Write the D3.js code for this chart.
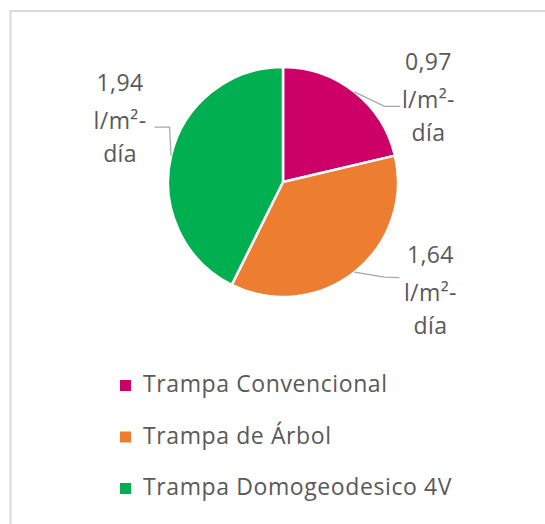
<!DOCTYPE html>
<html><head><meta charset="utf-8">
<script src="https://cdn.jsdelivr.net/npm/d3@7"></script>
<style>body{margin:0;background:#fff}svg{display:block}</style>
</head><body><svg id="c" width="545" height="524"></svg>
<script>
const categories = ["Trampa Convencional", "Trampa de Árbol", "Trampa Domogeodesico 4V"];
const values = [0.97, 1.64, 1.94];
const unitLines = ["l/m²-", "día"];
const colors = ["#CC0066", "#ED7D31", "#00B050"];

const W = 545, H = 524;
const cx = 283, cy = 182, R = 115;
const font = "'Open Sans', 'Noto Sans', sans-serif";
const txtColor = "#595959";

// layout (styling) for labels, relative to the leader start on the pie edge
const labelLayout = [
  {elbow: [30, 14.5], end: [46, 14.5], text: [74, -22]},
  {elbow: [30, 5], end: [45, 5.5], text: [76, -9]},
  {elbow: [-1.5, -28.5], end: [-16.5, -28.5], text: [-51, -65]}
];
const lineOffsets = [0, 38, 71];

const fmt = d3.formatLocale({decimal: ",", thousands: ".", grouping: [3], currency: ["", ""]}).format(".2f");

const svg = d3.select("#c");
svg.append("rect").attr("x", 10.5).attr("y", 11).attr("width", W + 20).attr("height", H + 20)
  .attr("fill", "#fff").attr("stroke", "#d9d9d9").attr("stroke-width", 2);

const pie = d3.pie().value(d => d).sort(null);
const arcs = pie(values);
const arc = d3.arc().innerRadius(0).outerRadius(R);

const g = svg.append("g").attr("transform", `translate(${cx},${cy})`);
g.selectAll("path.slice").data(arcs).enter().append("path")
  .attr("class", "slice")
  .attr("d", arc)
  .attr("fill", (d, i) => colors[i])
  .attr("stroke", "#fff").attr("stroke-width", 2.5).attr("stroke-linejoin", "round");

const edge = d3.arc().innerRadius(R).outerRadius(R);
arcs.forEach((d, i) => {
  const [sx, sy] = edge.centroid(d);
  const L = labelLayout[i];
  g.append("polyline")
    .attr("points", [[sx, sy], [sx + L.elbow[0], sy + L.elbow[1]], [sx + L.end[0], sy + L.end[1]]].map(p => p.join(",")).join(" "))
    .attr("fill", "none").attr("stroke", "#a6a6a6").attr("stroke-width", 1.2);
  const lines = [fmt(d.data)].concat(unitLines);
  const t = g.append("text")
    .attr("font-family", font).attr("font-size", 23).attr("letter-spacing", 0.4).attr("fill", txtColor)
    .attr("text-anchor", "middle");
  lines.forEach((s, k) => {
    t.append("tspan").attr("x", sx + L.text[0]).attr("y", sy + L.text[1] + lineOffsets[k]).text(s);
  });
});

// legend
const legY = d3.scalePoint().domain(categories).range([392, 495]);
const leg = svg.append("g");
categories.forEach((c, i) => {
  const y = legY(c);
  leg.append("rect").attr("x", 120).attr("y", y - 12).attr("width", 11).attr("height", 11).attr("fill", colors[i]);
  leg.append("text").attr("x", 143).attr("y", y)
    .attr("font-family", font).attr("font-size", 23).attr("letter-spacing", 0.6).attr("fill", txtColor).text(c);
});
</script>
</body></html>
